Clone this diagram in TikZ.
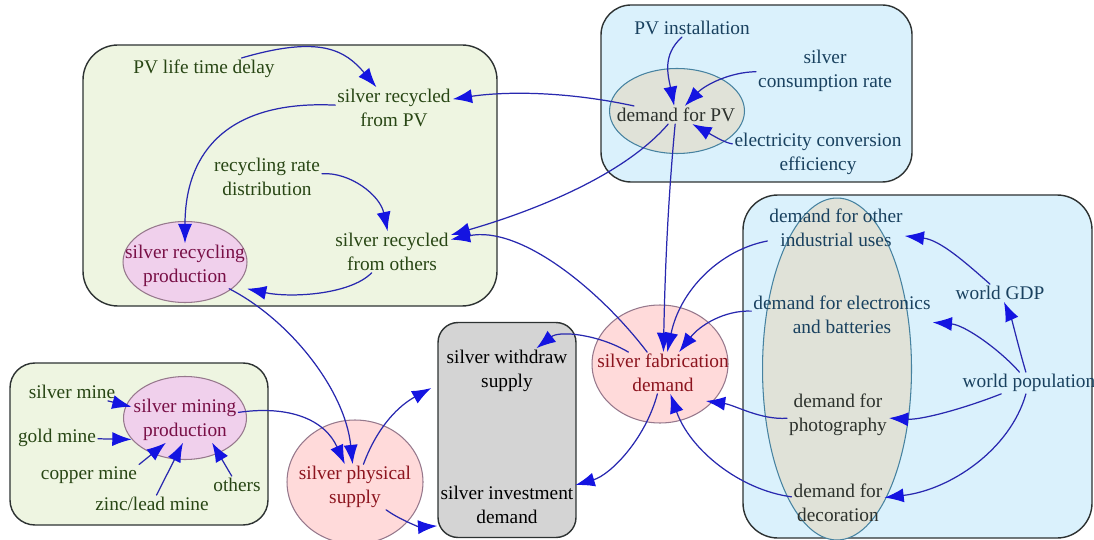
\documentclass[tikz,border=0pt]{standalone}
\usepackage{fontspec}
\setmainfont{Liberation Serif}
\usetikzlibrary{arrows.meta,calc,shapes.geometric}
\definecolor{loopblue}{RGB}{40,40,175}
\definecolor{tipblue}{RGB}{20,20,225}
\definecolor{boxgreen}{RGB}{238,245,225}
\definecolor{boxblue}{RGB}{218,241,252}
\definecolor{boxgray}{RGB}{212,212,212}
\definecolor{framegray}{RGB}{45,50,50}
\definecolor{pinkfill}{RGB}{255,218,218}
\definecolor{mauvefill}{RGB}{240,208,236}
\definecolor{stonefill}{RGB}{224,226,216}
\definecolor{pinkline}{RGB}{150,120,140}
\definecolor{stoneline}{RGB}{70,130,160}
\definecolor{textgreen}{RGB}{40,70,20}
\definecolor{textblue}{RGB}{25,65,95}
\definecolor{textred}{RGB}{140,20,30}
\definecolor{textmauve}{RGB}{120,15,70}
\definecolor{textstone}{RGB}{45,50,45}

\begin{document}
\begin{tikzpicture}[x=0.02cm,y=0.02cm,line cap=round,
 >={Latex[length=11pt,width=8pt,color=tipblue]},
 every node/.style={font=\rmfamily\fontsize{11}{13.5}\selectfont,align=center,inner sep=1pt},
 greenbox/.style={fill=boxgreen,draw=framegray,line width=.8pt,rounded corners=.7cm},
 bluebox/.style={fill=boxblue,draw=framegray,line width=.8pt,rounded corners=.6cm},
 graybox/.style={rectangle,fill=boxgray,draw=framegray,line width=.8pt,rounded corners=.4cm},
 ball/.style={ellipse,inner sep=0pt,line width=.6pt},
 pinkball/.style={ball,fill=pinkfill,draw=pinkline},
 mauveball/.style={ball,fill=mauvefill,draw=pinkline},
 stoneball/.style={ball,fill=stonefill,draw=stoneline},
 greentxt/.style={text=textgreen},
 bluetxt/.style={text=textblue},
 redtxt/.style={text=textred},
 mauvetxt/.style={text=textmauve},
 stonetxt/.style={text=textstone},
 link/.style={->,draw=loopblue,line width=.7pt}]
\useasboundingbox (0,0) rectangle (1094,-540);
\filldraw[greenbox] (83,-45) rectangle (497,-306);
\filldraw[bluebox] (601,-5) rectangle (912,-182);
\filldraw[bluebox,rounded corners=.7cm] (743,-195) rectangle (1092,-538);
\filldraw[greenbox,rounded corners=.5cm] (10,-363) rectangle (268,-525);
\node[mauveball,minimum width=2.48cm,minimum height=1.62cm] (recprodbg) at (185,-262) {};
\node[mauveball,minimum width=2.46cm,minimum height=1.66cm] (miningbg) at (185,-418) {};
\node[stoneball,minimum width=2.7cm,minimum height=1.7cm] (dpvbg) at (677,-111) {};
\node[stoneball,minimum width=2.98cm,minimum height=6.84cm] (usesbg) at (837,-369) {};
\node[pinkball,minimum width=2.72cm,minimum height=2.36cm] (fabbg) at (660,-364) {};
\node[pinkball,minimum width=2.72cm,minimum height=2.48cm] (physbg) at (355,-482) {};
\node[graybox,minimum width=2.76cm,minimum height=4.3cm] (pool) at (507,-430) {};

\node[greentxt] (life) at (204,-69) {PV life time delay};
\node[greentxt] (recpv) at (394,-108) {silver recycled\\from PV};
\node[greentxt] (rate) at (267,-177) {recycling rate\\distribution};
\node[greentxt] (recoth) at (392,-252) {silver recycled\\from others};
\node[mauvetxt] (recprod) at (185,-266) {silver recycling\\production};
\node[mauvetxt] (mining) at (185,-420) {silver mining\\production};
\node[greentxt] (smine) at (72,-392) {silver mine};
\node[greentxt] (gmine) at (57,-438) {gold mine};
\node[greentxt] (cmine) at (89,-475) {copper mine};
\node[greentxt] (zmine) at (152,-504) {zinc/lead mine};
\node[greentxt] (omine) at (237,-485) {others};
\node[bluetxt] (pvinst) at (692,-28) {PV installation};
\node[bluetxt] (cons) at (825,-71) {silver\\consumption rate};
\node[stonetxt] (dpv) at (676,-115) {demand for PV};
\node[bluetxt] (eff) at (818,-154) {electricity conversion\\efficiency};
\node[bluetxt] (dother) at (836,-228) {demand for other\\industrial uses};
\node[bluetxt] (delec) at (842,-315) {demand for electronics\\and batteries};
\node[bluetxt] (gdp) at (1000,-293) {world GDP};
\node[bluetxt] (pop) at (1029,-383) {world population};
\node[stonetxt] (dphoto) at (838,-415) {demand for\\photography};
\node[stonetxt] (ddeco) at (838,-503) {demand for\\decoration};
\node[redtxt] (fab) at (663,-373) {silver fabrication\\demand};
\node[redtxt] (phys) at (355,-487) {silver physical\\supply};
\node (withdraw) at (507,-371) {silver withdraw\\supply};
\node (invest) at (507,-505) {silver investment\\demand};

\draw[link] (life) .. controls (320,-35) and (345,-50) .. (recpv);
\draw[link] (recpv) .. controls (230,-100) and (185,-150) .. (recprod);
\draw[link] (rate) .. controls (350,-172) and (380,-195) .. (recoth);
\draw[link] (recoth) .. controls (350,-295) and (290,-298) .. (recprod.south east);
\draw[link] (dpv) .. controls (560,-90) and (500,-92) .. (recpv);
\draw[link] (dpv) .. controls (620,-180) and (520,-215) .. (recoth);
\draw[link] (dpv) .. controls (668,-200) and (665,-270) .. (fab);
\draw[link] (pvinst) .. controls (662,-55) and (668,-75) .. (dpv);
\draw[link] (cons) .. controls (730,-72) and (705,-85) .. (dpv);
\draw[link] (eff) .. controls (725,-143) and (712,-135) .. (dpv);
\draw[link] (fab) .. controls (600,-290) and (520,-225) .. (recoth);
\draw[link] (dother) .. controls (720,-250) and (680,-290) .. (fab);
\draw[link] (delec) .. controls (725,-310) and (700,-325) .. (fab);
\draw[link] (dphoto) .. controls (760,-420) and (735,-405) .. ($(fab.east)+(-25,-28)$);
\draw[link] (ddeco) .. controls (740,-490) and (690,-450) .. (fab);
\draw[link] (gdp) .. controls (965,-262) and (940,-240) .. (dother);
\draw[link] (pop) .. controls (1018,-345) and (1012,-320) .. (gdp);
\draw[link] (pop) .. controls (1000,-350) and (965,-325) .. (delec);
\draw[link] (pop) .. controls (960,-410) and (920,-420) .. (dphoto);
\draw[link] (pop) .. controls (1010,-450) and (950,-490) .. (ddeco);
\draw[link] (fab) .. controls (600,-335) and (560,-330) .. (withdraw);
\draw[link] (fab) .. controls (645,-440) and (610,-475) .. (invest);
\draw[link] (phys) .. controls (378,-425) and (400,-405) .. ($(pool.west)+(-6,42)$);
\draw[link] (phys) .. controls (400,-520) and (420,-527) .. (pool.234);
\draw[link] (mining) .. controls (290,-405) and (325,-420) .. (phys);
\draw[link] (recprod) .. controls (290,-320) and (345,-390) .. (phys);
\draw[link] (smine) -- (mining);
\draw[link] (gmine) -- (mining.200);
\draw[link] (cmine.north east) -- (mining.230);
\draw[link] (zmine) -- (mining.265);
\draw[link] (omine) -- (mining.320);
\end{tikzpicture}
\end{document}
